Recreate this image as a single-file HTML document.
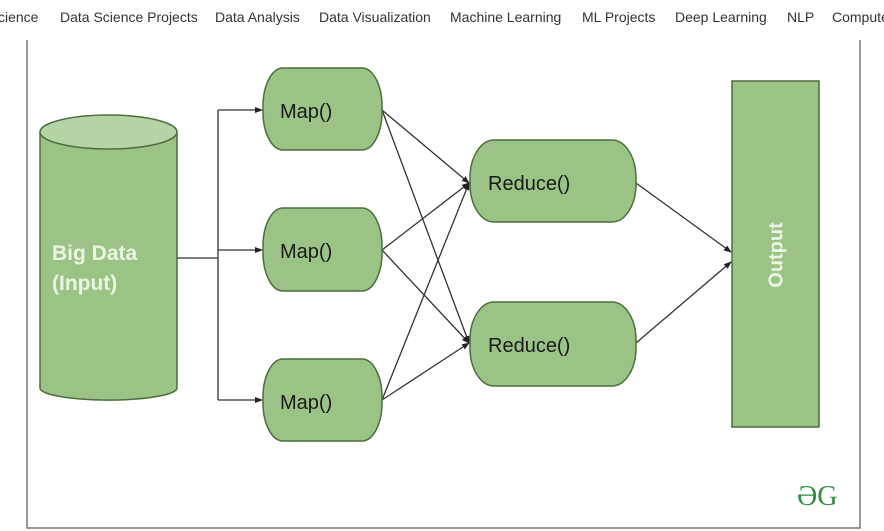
<!DOCTYPE html>
<html><head><meta charset="utf-8"><style>
html,body{margin:0;padding:0;background:#fff;width:884px;height:531px;overflow:hidden;position:relative;font-family:"Liberation Sans",sans-serif}
.nav{position:absolute;top:9px;font-family:"Liberation Sans Narrow","Liberation Sans",sans-serif;font-size:14px;color:#333;white-space:nowrap}
svg{position:absolute;left:0;top:0}
</style></head><body>
<div class="nav" style="left:-2px">cience</div>
<div class="nav" style="left:60px">Data Science Projects</div>
<div class="nav" style="left:215px">Data Analysis</div>
<div class="nav" style="left:319px">Data Visualization</div>
<div class="nav" style="left:450px">Machine Learning</div>
<div class="nav" style="left:582px">ML Projects</div>
<div class="nav" style="left:675px">Deep Learning</div>
<div class="nav" style="left:787px">NLP</div>
<div class="nav" style="left:832px">Computer</div>
<svg width="884" height="531" viewBox="0 0 884 531">
<defs><marker id="a" markerWidth="8" markerHeight="8" refX="7" refY="4" orient="auto" markerUnits="userSpaceOnUse"><path d="M0,1 L8,4 L0,7 z" fill="#222"/></marker></defs>
<path d="M27,40 V528 H860 V40" fill="none" stroke="#777" stroke-width="1.5"/>
<!-- cylinder -->
<path d="M40,132 V388 A68,12 0 0 0 177,388 V132" fill="#9bc386" stroke="#4d6e3d" stroke-width="1.5"/>
<ellipse cx="108.5" cy="132" rx="68.5" ry="17" fill="#b5d4a4" stroke="#4d6e3d" stroke-width="1.5"/>
<text x="52" y="260" font-size="21" font-weight="bold" fill="#eaf5e2">Big Data</text>
<text x="52" y="290" font-size="21" font-weight="bold" fill="#eaf5e2">(Input)</text>
<!-- connectors -->
<g stroke="#333" stroke-width="1.3" fill="none">
<path d="M177,258 H218"/><path d="M218,110 V400"/>
<path d="M218,110 H262" marker-end="url(#a)"/>
<path d="M218,250 H262" marker-end="url(#a)"/>
<path d="M218,400 H262" marker-end="url(#a)"/>
<path d="M382,110 L469,183" marker-end="url(#a)"/>
<path d="M382,110 L469,343" marker-end="url(#a)"/>
<path d="M382,250 L469,183" marker-end="url(#a)"/>
<path d="M382,250 L469,343" marker-end="url(#a)"/>
<path d="M382,400 L469,183" marker-end="url(#a)"/>
<path d="M382,400 L469,343" marker-end="url(#a)"/>
<path d="M636,183 L731,252" marker-end="url(#a)"/>
<path d="M636,343 L731,262" marker-end="url(#a)"/>
</g>
<g fill="#9bc386" stroke="#4d6e3d" stroke-width="1.5">
<rect x="263" y="68" width="119" height="82" rx="20" ry="38"/>
<rect x="263" y="208" width="119" height="83" rx="20" ry="38"/>
<rect x="263" y="359" width="119" height="82" rx="20" ry="38"/>
<rect x="470" y="140" width="166" height="82" rx="24" ry="38"/>
<rect x="470" y="302" width="166" height="84" rx="24" ry="38"/>
<rect x="732" y="81" width="87" height="346"/>
</g>
<g font-size="20" fill="#1a1a1a">
<text x="280" y="118">Map()</text>
<text x="280" y="258">Map()</text>
<text x="280" y="409">Map()</text>
<text x="488" y="190">Reduce()</text>
<text x="488" y="352">Reduce()</text>
</g>
<text x="0" y="0" transform="translate(777,255) rotate(-90)" text-anchor="middle" dominant-baseline="middle" font-size="20" font-weight="bold" fill="#eaf5e2">Output</text>
<text x="797" y="505" font-size="28" fill="#2f8d46" font-family="Liberation Serif,serif">ƏG</text>
</svg>
</body></html>
